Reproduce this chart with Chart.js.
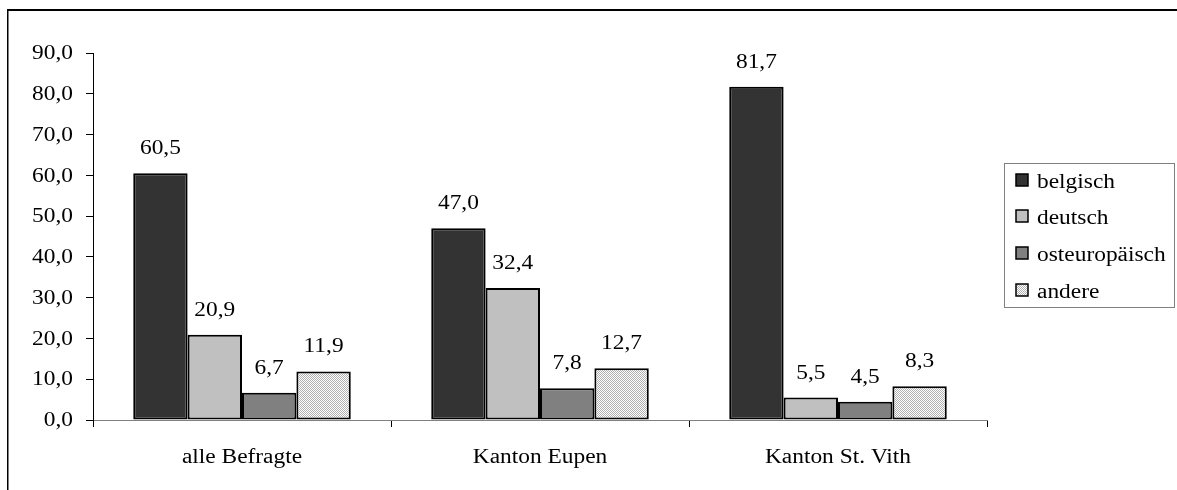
<!DOCTYPE html>
<html>
<head>
<meta charset="utf-8">
<script src="https://cdn.jsdelivr.net/npm/chart.js@4"></script>
<style>
html,body{margin:0;padding:0;background:#fff;}
#wrap{width:1177px;height:490px;position:relative;}
</style>
</head>
<body>
<div id="wrap"><canvas id="c" width="1177" height="490"></canvas></div>
<script>
const categories = ["alle Befragte", "Kanton Eupen", "Kanton St. Vith"];
const seriesNames = ["belgisch", "deutsch", "osteuropäisch", "andere"];
const belgisch = [60.5, 47.0, 81.7];
const deutsch = [20.9, 32.4, 5.5];
const osteuropaeisch = [6.7, 7.8, 4.5];
const andere = [11.9, 12.7, 8.3];
const yTicks = [0, 10, 20, 30, 40, 50, 60, 70, 80, 90];

const FONT = "'Liberation Serif', 'Times New Roman', serif";
const FSIZE = 20;
const STRETCH = 1.17;

function makePattern() {
  const p = document.createElement('canvas');
  p.width = 2; p.height = 2;
  const g = p.getContext('2d');
  g.fillStyle = '#ffffff'; g.fillRect(0, 0, 2, 2);
  g.fillStyle = '#b0b0b0';
  g.fillRect(0, 0, 1, 1);
  g.fillRect(1, 1, 1, 1);
  return document.getElementById('c').getContext('2d').createPattern(p, 'repeat');
}
const dotPattern = makePattern();
const fills = ['#333333', '#c0c0c0', '#808080', dotPattern];
const seriesData = [belgisch, deutsch, osteuropaeisch, andere];

const fmt = v => v.toFixed(1).replace('.', ',');

function stretchedText(ctx, text, x, y, align, baseline) {
  ctx.save();
  ctx.font = FSIZE + 'px ' + FONT;
  ctx.fillStyle = '#000';
  ctx.textAlign = align;
  ctx.textBaseline = baseline;
  ctx.translate(x, y);
  ctx.scale(STRETCH, 1);
  ctx.fillText(text, 0, 0);
  ctx.restore();
}

const framePlugin = {
  id: 'frame',
  beforeDraw(chart) {
    const ctx = chart.ctx;
    ctx.save();
    ctx.fillStyle = '#fff';
    ctx.fillRect(0, 0, chart.width, chart.height);
    ctx.fillStyle = '#000';
    ctx.fillRect(7, 9, chart.width - 7, 2);
    ctx.fillRect(7, 9, 1.5, chart.height - 9);
    ctx.restore();
  }
};

const axisLabelPlugin = {
  id: 'axislabels',
  afterDraw(chart) {
    const ctx = chart.ctx;
    const ys = chart.scales.y;
    ys.ticks.forEach((t, i) => {
      const py = ys.getPixelForTick(i);
      stretchedText(ctx, fmt(t.value), 73, py + 1, 'right', 'middle');
    });
    const xs = chart.scales.x;
    categories.forEach((c, i) => {
      stretchedText(ctx, c, xs.getPixelForTick(i), 463, 'center', 'alphabetic');
    });
  }
};

const labelPlugin = {
  id: 'vlabels',
  afterDatasetsDraw(chart) {
    const ctx = chart.ctx;
    chart.data.datasets.forEach((ds, i) => {
      chart.getDatasetMeta(i).data.forEach((bar, j) => {
        stretchedText(ctx, fmt(ds.data[j]), bar.x, bar.y - 19, 'center', 'alphabetic');
      });
    });
  }
};

const legendPlugin = {
  id: 'boxlegend',
  afterDraw(chart) {
    const ctx = chart.ctx;
    ctx.save();
    ctx.strokeStyle = '#808080';
    ctx.lineWidth = 1;
    ctx.strokeRect(1004.5, 163.5, 170, 144);
    ctx.restore();
    const tops = [174, 210, 247, 284];
    seriesNames.forEach((n, i) => {
      const y = tops[i];
      ctx.save();
      ctx.fillStyle = fills[i];
      ctx.fillRect(1016, y, 12, 12);
      ctx.strokeStyle = '#000';
      ctx.lineWidth = 1.5;
      ctx.strokeRect(1016, y, 12, 12);
      ctx.restore();
      stretchedText(ctx, n, 1037, y + 14, 'left', 'alphabetic');
    });
  }
};

new Chart(document.getElementById('c'), {
  type: 'bar',
  data: {
    labels: categories,
    datasets: seriesNames.map((n, i) => ({
      label: n,
      data: seriesData[i],
      backgroundColor: fills[i],
      borderColor: '#000',
      borderWidth: 2,
      borderSkipped: false,
      categoryPercentage: 0.73,
      barPercentage: 1.0
    }))
  },
  options: {
    responsive: false,
    animation: false,
    devicePixelRatio: 1,
    layout: { padding: { left: 0, right: 190, top: 53, bottom: 0 } },
    plugins: {
      legend: { display: false },
      tooltip: { enabled: false }
    },
    scales: {
      x: {
        afterFit(s) { s.height = 70; },
        border: { color: '#808080', width: 1 },
        grid: { display: true, drawOnChartArea: false, drawTicks: true, tickLength: 7, color: '#000', offset: true },
        ticks: { display: false }
      },
      y: {
        min: 0, max: 90,
        afterFit(s) { s.width = 93; },
        afterBuildTicks(s) { s.ticks = yTicks.map(v => ({ value: v })); },
        border: { color: '#000', width: 1 },
        grid: { display: true, drawOnChartArea: false, drawTicks: true, tickLength: 7, color: '#000' },
        ticks: { display: false }
      }
    }
  },
  plugins: [framePlugin, labelPlugin, axisLabelPlugin, legendPlugin]
});
</script>
</body>
</html>
